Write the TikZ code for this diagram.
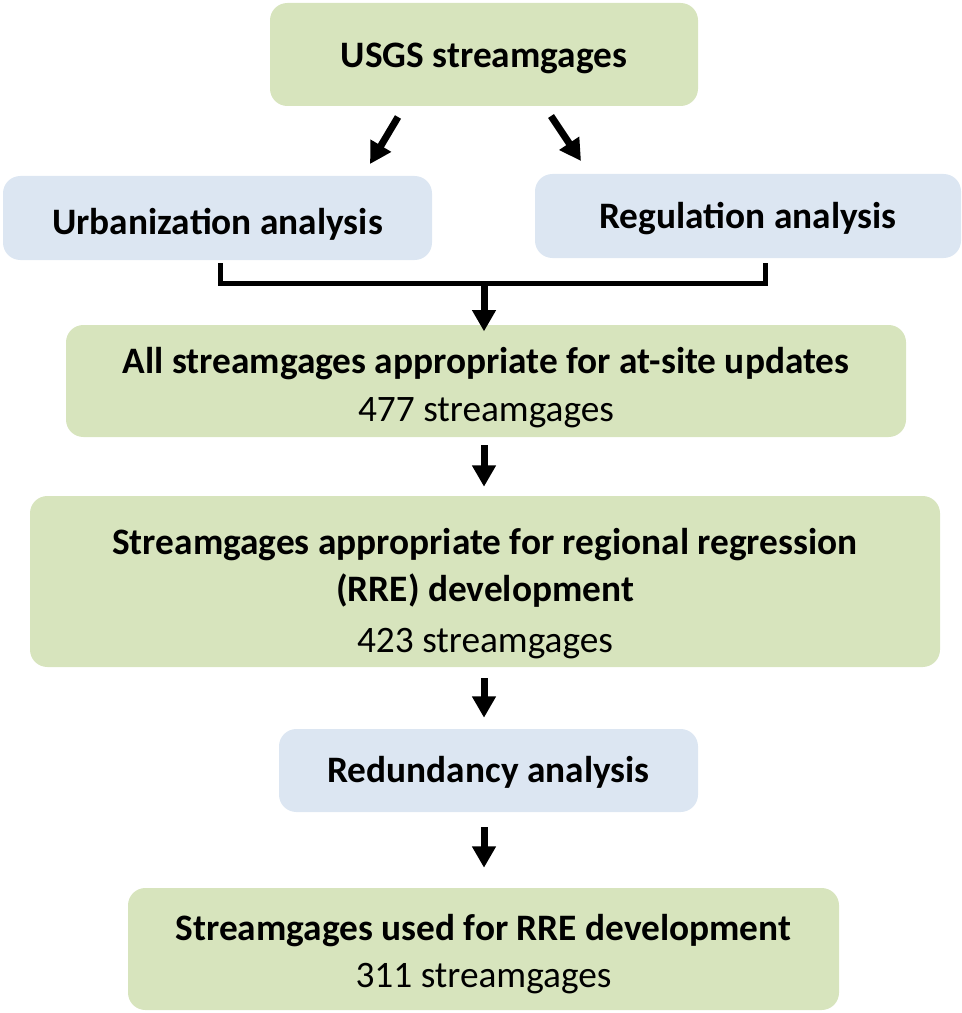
\documentclass[tikz,border=0pt]{standalone}
\usepackage{fontspec}
\setmainfont{Carlito}
\usetikzlibrary{arrows.meta}
\definecolor{boxgreen}{HTML}{D7E4BD}
\definecolor{boxblue}{HTML}{DCE6F2}
\newcommand{\toppad}[1]{\rule{0pt}{#1}}
\tikzset{
  stage/.style={fill=boxgreen, rounded corners=13pt, align=center, inner sep=0pt,
    font=\fontsize{28}{35}\selectfont\bfseries},
  check/.style={stage, fill=boxblue},
  bigarrow/.style={line width=5.25pt, -{Triangle[width=17pt,length=16pt]}},
  bracket/.style={line width=3.75pt}
}
\begin{document}
\begin{tikzpicture}[x={(0.75pt,0)}, y={(0,-0.75pt)}]
\useasboundingbox (0,0) rectangle (961,1013);
% boxes
\node[stage, minimum width=321pt, minimum height=77.25pt] (usgs) at (484,54.5) {\toppad{24.5pt}USGS streamgages};
\node[check, minimum width=321.75pt, minimum height=63pt] (urban) at (217.5,218) {\toppad{29pt}Urbanization analysis};
\node[check, minimum width=319.5pt, minimum height=63pt] (regul) at (748,216) {\toppad{23pt}Regulation analysis};
\node[stage, minimum width=630pt, minimum height=84pt] (allsites) at (486,381)
  {\toppad{29pt}All streamgages appropriate for at-site updates\\[1pt] \mdseries 477 streamgages};
\node[stage, minimum width=682.5pt, minimum height=128.25pt] (rre) at (485,581.5)
  {\toppad{38pt}Streamgages appropriate for regional regression\\ (RRE) development\\[3pt] \mdseries 423 streamgages};
\node[check, minimum width=314.25pt, minimum height=62.25pt] (redund) at (488.5,770.5) {\toppad{23pt}Redundancy analysis};
\node[stage, minimum width=533.25pt, minimum height=91.5pt] (final) at (483.5,949)
  {\toppad{27pt}Streamgages used for RRE development\\ \mdseries 311 streamgages};
% arrows
\coordinate (ls) at (398,117);
\coordinate (le) at (370,164);
\coordinate (rs) at (551,116);
\coordinate (re) at (581,161);
\draw[bigarrow] (ls) -- (le);
\draw[bigarrow] (rs) -- (re);
\draw[bracket] ([shift={(3,3)}]urban.south) -- ++(0,20) -| ([shift={(17,5)}]regul.south);
\coordinate (join) at (484,281);
\draw[bigarrow, shorten >=-5pt] (join) -- (allsites.north -| join);
\draw[bigarrow, shorten <=6pt, shorten >=6.75pt] (allsites.south -| join) -- (rre.north -| join);
\draw[bigarrow, shorten <=8.25pt, shorten >=8.25pt] (rre.south -| join) -- (redund.north -| join);
\draw[bigarrow, shorten <=11.25pt, shorten >=15pt] (redund.south -| join) -- (final.north -| join);
\end{tikzpicture}
\end{document}
